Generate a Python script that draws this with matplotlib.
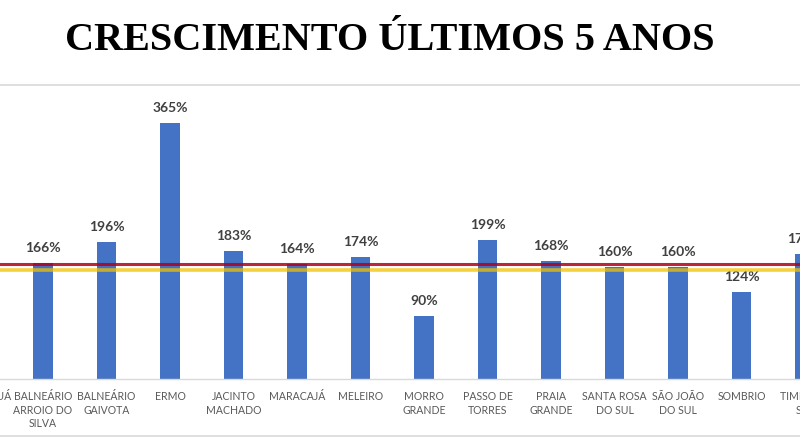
import matplotlib
matplotlib.use("Agg")
import matplotlib.pyplot as plt
from matplotlib.lines import Line2D

categories = ["ARARANGUÁ", "BALNEÁRIO\nARROIO DO\nSILVA", "BALNEÁRIO\nGAIVOTA", "ERMO",
              "JACINTO\nMACHADO", "MARACAJÁ", "MELEIRO", "MORRO\nGRANDE", "PASSO DE\nTORRES",
              "PRAIA\nGRANDE", "SANTA ROSA\nDO SUL", "SÃO JOÃO\nDO SUL", "SOMBRIO", "TIMBÉ DO\nSUL"]
values = [150, 166, 196, 365, 183, 164, 174, 90, 199, 168, 160, 160, 124, 178]
red_line_value = 164
yellow_line_value = 156
title = "CRESCIMENTO ÚLTIMOS 5 ANOS"

W, H = 800, 438
fig = plt.figure(figsize=(W / 100, H / 100), dpi=100)
fig.patch.set_facecolor("white")

base_px = 379
top_px = 85
left_px, right_px = -120, 920
ax = fig.add_axes([left_px / W, (H - base_px) / H, (right_px - left_px) / W,
                   (base_px - top_px) / H])
px_per_unit = 0.70
spacing = 63.5

x = list(range(len(categories)))
bars = ax.bar(x, values, width=0.31, color="#4472C4", zorder=2)
for xi, v in zip(x, values):
    ax.annotate(f"{v}%", (xi, v), xytext=(0, 6.5), textcoords="offset points",
                ha="center", va="bottom", fontsize=10, fontweight="bold",
                color="#404040", family="Lato", annotation_clip=False)

ax.axhline(red_line_value, color="#B00018", lw=2.2, alpha=0.85, zorder=3)
ax.axhline(yellow_line_value, color="#F2C200", lw=2.6, alpha=0.75, zorder=3)

ax.set_xticks(x)
ax.set_xticklabels(categories, fontsize=7.6, color="#595959", family="Lato", linespacing=1.3)
ax.tick_params(axis="x", length=0, pad=8.5)
ax.set_yticks([])
ax.set_xlim(1 + (left_px - 43) / spacing, 1 + (right_px - 43) / spacing)
ax.set_ylim(0, (base_px - top_px) / px_per_unit)
for s in ["top", "left", "right"]:
    ax.spines[s].set_visible(False)
ax.spines["bottom"].set_color("#D9D9D9")
ax.spines["bottom"].set_linewidth(1)

for ypx in (84.5, 436):
    fig.add_artist(Line2D([0, 1], [(H - ypx) / H] * 2, transform=fig.transFigure,
                          color="#D9D9D9", lw=1.2))

fig.text(390 / W, 1 - 41 / H, title, ha="center", va="center", fontsize=29,
         fontweight="bold", family="Liberation Serif", color="black")

fig.savefig("out.png", dpi=100)
